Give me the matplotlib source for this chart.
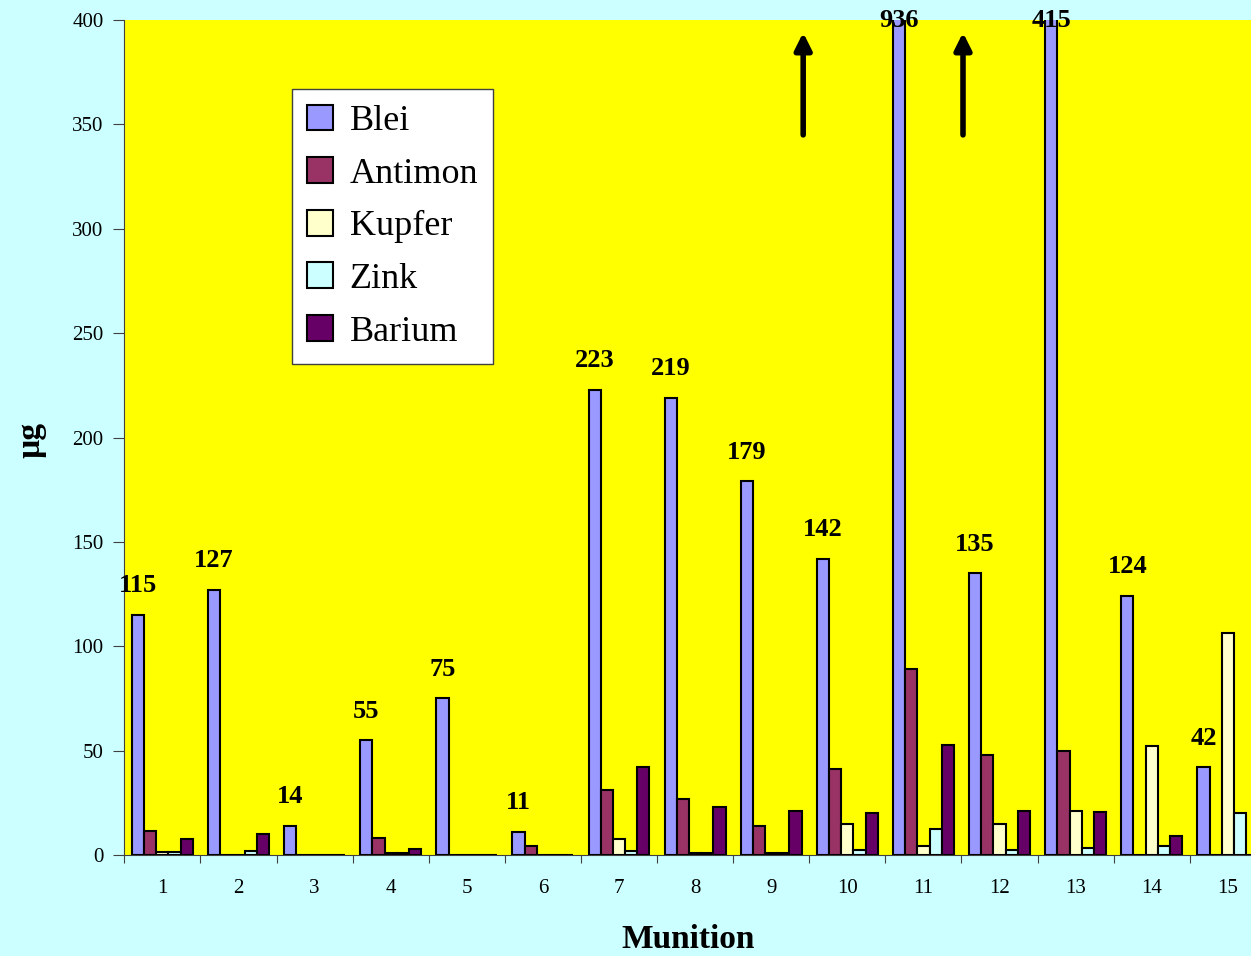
import matplotlib
matplotlib.use('Agg')
import matplotlib.pyplot as plt
import numpy as np

plt.rcParams['font.family'] = ['Liberation Serif', 'DejaVu Serif']

# Munition 1..15
munition = [str(i) for i in range(1, 16)]
blei    = [115, 127, 14, 55, 75, 11, 223, 219, 179, 142, 936, 135, 415, 124, 42]
antimon = [11.5, 0, 0, 8.4, 0, 4.5, 31, 27, 14, 41, 89, 48, 50, 0, 0]
kupfer  = [1.3, 0, 0, 1.2, 0, 0, 7.5, 1, 1, 15, 4.3, 15, 21, 52.3, 106.5]
zink    = [1.3, 2, 0, 1.2, 0, 0, 2, 1, 1, 2.5, 12.3, 2.5, 3.5, 4.5, 20]
barium  = [7.5, 10, 0, 2.7, 0, 0, 42, 23, 21, 20, 52.7, 21, 20.4, 9, 0]

series = [
    ('Blei', blei, '#9999FF'),
    ('Antimon', antimon, '#993366'),
    ('Kupfer', kupfer, '#FFFFCC'),
    ('Zink', zink, '#CCFFFF'),
    ('Barium', barium, '#660066'),
]

fig = plt.figure(figsize=(12.51, 9.56), dpi=100, facecolor='#CCFFFF')
# Plotfläche läuft rechts über den Bildrand hinaus (wie im Original)
ax = fig.add_axes([0.0994, 0.1056, 0.9125, 0.8734])
ax.set_facecolor('#FFFF00')

x = np.arange(1, 16)
w = 0.16
for i, (name, vals, col) in enumerate(series):
    ax.bar(x + (i - 2) * w, vals, width=w, color=col, edgecolor='black',
           linewidth=1.5, label=name, zorder=3)

ax.set_xlim(0.5, 15.5)
ax.set_ylim(0, 400)

# Wertbeschriftung über Blei
for xi, v in zip(x, blei):
    y = min(v + 14, 400)
    ax.text(xi - 2 * w, y, str(v), ha='center', va='center', fontsize=19,
            fontweight='bold', clip_on=False, zorder=5)

# Pfeile für abgeschnittene Balken
for xa in [9.42, 11.52]:
    ax.annotate('', xy=(xa, 394), xytext=(xa, 345),
                arrowprops=dict(arrowstyle='-|>,head_width=0.5,head_length=1.0',
                                lw=4, color='black', shrinkA=0, shrinkB=0),
                zorder=6)

ax.set_yticks(range(0, 401, 50))
ax.set_xticks(np.arange(0.5, 15.6, 1))
ax.set_xticklabels([])
ax.set_xticks(x, minor=True)
ax.set_xticklabels(munition, minor=True)
ax.tick_params(axis='x', which='minor', length=0, labelsize=15, pad=17)
ax.tick_params(axis='x', which='major', length=6, color='#404040')
ax.tick_params(axis='y', labelsize=15, length=8, color='#404040', pad=7)

for s in ['top', 'right']:
    ax.spines[s].set_visible(False)
ax.spines['left'].set_color('#404040')
ax.spines['bottom'].set_color('#404040')

ax.set_xlabel('Munition', fontsize=24, fontweight='bold', labelpad=16)
ax.xaxis.set_label_coords(0.4938, -0.083)
ax.set_ylabel('µg', fontsize=24, fontweight='bold')
ax.yaxis.set_label_coords(-0.068, 0.497)

leg = ax.legend(loc='upper left', bbox_to_anchor=(0.147, 0.917), borderaxespad=0,
                fontsize=26, frameon=True, fancybox=False, handlelength=0.72,
                handleheight=0.72, handletextpad=0.45, labelspacing=0.53,
                borderpad=0.42)
leg.get_frame().set_edgecolor('#404040')
leg.get_frame().set_facecolor('white')
leg.get_frame().set_alpha(1)
leg.set_zorder(10)

fig.savefig('out.png', dpi=100, facecolor=fig.get_facecolor())
